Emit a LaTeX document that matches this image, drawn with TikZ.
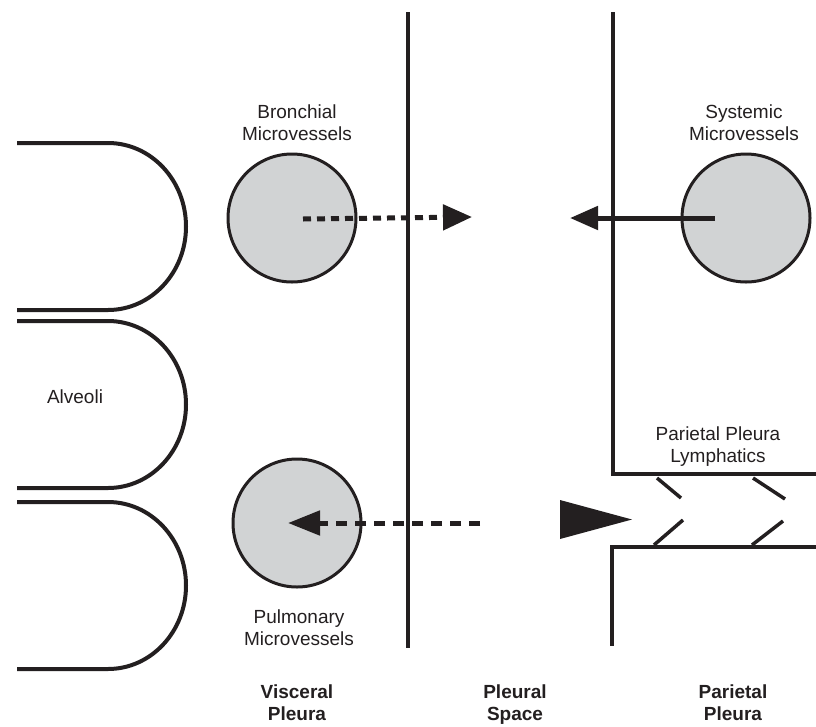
\documentclass[tikz,border=0pt]{standalone}
\usepackage{fontspec}
\setmainfont{Liberation Sans}
\usetikzlibrary{arrows.meta}
\definecolor{ink}{HTML}{231F20}
\definecolor{vesselgray}{HTML}{D1D3D4}
\tikzset{
  wall/.style={draw=ink, line width=4pt},
  alveolus/.style={draw=ink, line width=4pt},
  vessel/.style={circle, draw=ink, line width=3pt, fill=vesselgray, minimum size=128pt, inner sep=0pt},
  lbl/.style={font=\fontsize{19}{22}\selectfont, text=ink, align=center, inner sep=0pt},
  sectionlbl/.style={font=\fontsize{19}{22}\selectfont\bfseries, text=ink, align=center, inner sep=0pt},
  flowdash/.style={draw=ink, line width=5pt, dash pattern=on 8pt off 6pt,
    -{Triangle[length=29pt, width=25pt]}},
  flowdashlong/.style={draw=ink, line width=5pt, dash pattern=on 11pt off 8pt,
    -{Triangle[length=32pt, width=24pt]}},
  flowsolid/.style={draw=ink, line width=5pt, -{Triangle[length=28pt, width=23pt]}},
  valve/.style={draw=ink, line width=3.5pt},
}
\begin{document}
\begin{tikzpicture}[x=1pt, y=-1pt]
\useasboundingbox (0,0) rectangle (816,726);

% alveoli: open sacs bulging to the right
\foreach \cy in {226.5, 404.5, 585.5}{
  \draw[alveolus] (17,\cy-83.5) -- (108,\cy-83.5)
     arc[start angle=90, end angle=-90, x radius=78pt, y radius=83.5pt]
     -- (17,\cy+83.5);
}
\node[lbl] (alv) at (75,397) {Alveoli};

% pleural membranes
\coordinate (vtop) at (408,12);
\coordinate (vbot) at (408,648);
\draw[wall] (vtop) -- (vbot);
\coordinate (ptop) at (613,12);
\coordinate (pcorner1) at (613,474);
\coordinate (pright1) at (816,474);
\draw[wall] (ptop) -- (pcorner1) -- (pright1);
\coordinate (pright2) at (816,547);
\coordinate (pcorner2) at (612,547);
\coordinate (pbot) at (612,646);
\draw[wall] (pright2) -- (pcorner2) -- (pbot);

% lymphatic stomata
\draw[valve] (657,478) -- (681,498);
\draw[valve] (753,478) -- (785,499);
\draw[valve] (654,545) -- (683,520);
\draw[valve] (752,545) -- (783,521);
\fill[ink] (560,500) -- (632,519.5) -- (560,539) -- cycle;

% microvessels
\node[vessel] (bron) at (292,218) {};
\node[vessel] (syst) at (746,218) {};
\node[vessel] (pulm) at (297,523) {};

\node[lbl, anchor=south] (bronlbl) at (297,141) {Bronchial\\Microvessels};
\node[lbl, anchor=south] (systlbl) at (744,141) {Systemic\\Microvessels};
\node[lbl, anchor=south] (lymlbl) at (718,467) {Parietal Pleura\\Lymphatics};
\node[lbl, anchor=north] (pulmlbl) at (299,610) {Pulmonary\\Microvessels};

% fluid movement
\coordinate (bronout) at ([xshift=11pt,yshift=-1pt]bron.center);
\coordinate (spaceinA) at (472,217);
\draw[flowdash] (bronout) -- (spaceinA);

\coordinate (systout) at ([xshift=-31pt]syst.center);
\coordinate (spaceinB) at (570,218);
\draw[flowsolid] (systout) -- (spaceinB);

\coordinate (spaceout) at (480,523);
\coordinate (pulmin) at ([xshift=-9pt]pulm.center);
\draw[flowdashlong] (spaceout) -- (pulmin);

% layer names
\node[sectionlbl, anchor=north] (visc) at (297,685) {Visceral\\Pleura};
\node[sectionlbl, anchor=north] (space) at (515,685) {Pleural\\Space};
\node[sectionlbl, anchor=north] (pari) at (733,685) {Parietal\\Pleura};
\end{tikzpicture}
\end{document}
